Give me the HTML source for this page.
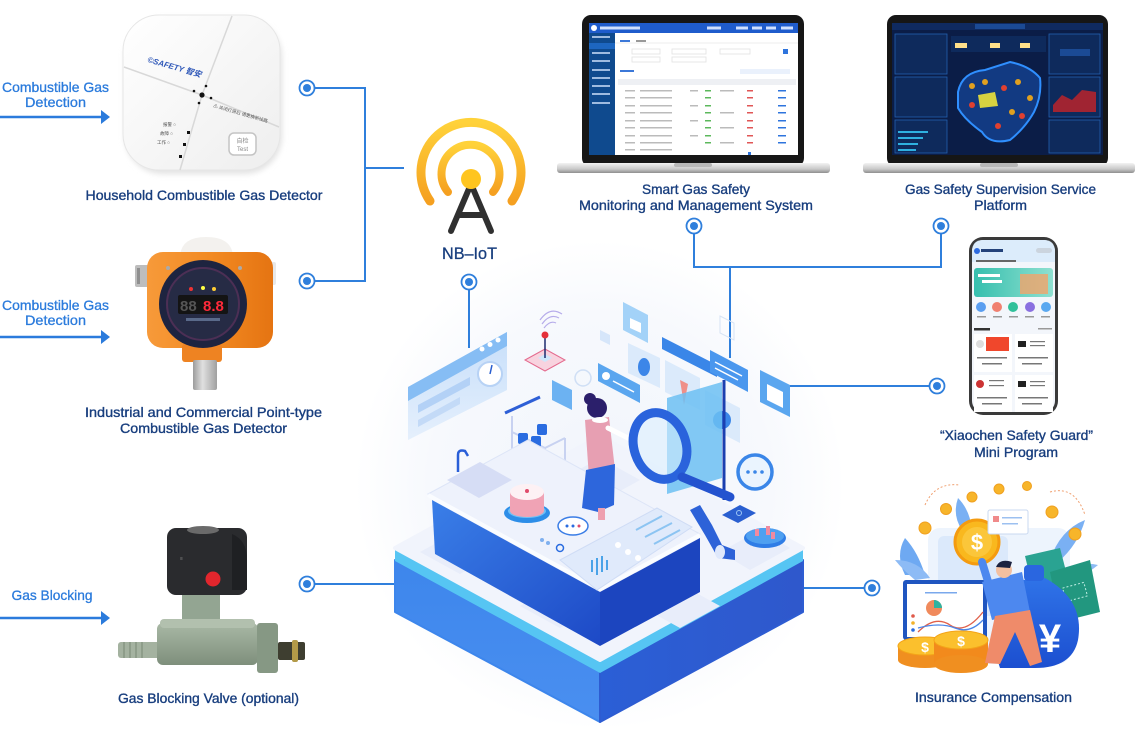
<!DOCTYPE html>
<html>
<head>
<meta charset="utf-8">
<style>
html,body{margin:0;padding:0;background:#fff;}
svg{display:block;}
text{font-family:"Liberation Sans","Noto Sans CJK SC",sans-serif;}
</style>
</head>
<body>
<svg width="1135" height="733" viewBox="0 0 1135 733" xmlns="http://www.w3.org/2000/svg">
<defs>
  <radialGradient id="glow" cx="0.5" cy="0.5" r="0.5">
    <stop offset="0" stop-color="#f1f5fc"/>
    <stop offset="0.7" stop-color="#f7f9fd"/>
    <stop offset="1" stop-color="#ffffff"/>
  </radialGradient>
  <linearGradient id="antg" x1="0" y1="0" x2="0" y2="1">
    <stop offset="0" stop-color="#ffd23a"/>
    <stop offset="1" stop-color="#f5a020"/>
  </linearGradient>
  <linearGradient id="leftFace" x1="0" y1="0" x2="0" y2="1">
    <stop offset="0" stop-color="#3d86ec"/>
    <stop offset="1" stop-color="#4a8ff0"/>
  </linearGradient>
  <linearGradient id="rightFace" x1="0" y1="0" x2="1" y2="0">
    <stop offset="0" stop-color="#2b5fd6"/>
    <stop offset="1" stop-color="#2f58cc"/>
  </linearGradient>
  <linearGradient id="ctrFace" x1="0" y1="0" x2="1" y2="1">
    <stop offset="0" stop-color="#3a7fe8"/>
    <stop offset="1" stop-color="#1d49c6"/>
  </linearGradient>
  <linearGradient id="browser" x1="0" y1="0" x2="0" y2="1">
    <stop offset="0" stop-color="#c4ddfa"/>
    <stop offset="1" stop-color="#e4effc"/>
  </linearGradient>
  <linearGradient id="silver" x1="0" y1="0" x2="0" y2="1">
    <stop offset="0" stop-color="#f2f2f2"/>
    <stop offset="0.6" stop-color="#c9c9c9"/>
    <stop offset="1" stop-color="#8e8e8e"/>
  </linearGradient>
  <linearGradient id="orange" x1="0" y1="0" x2="1" y2="0">
    <stop offset="0" stop-color="#f79a3a"/>
    <stop offset="0.5" stop-color="#f28a22"/>
    <stop offset="1" stop-color="#e57412"/>
  </linearGradient>
  <linearGradient id="sensor" x1="0" y1="0" x2="1" y2="0">
    <stop offset="0" stop-color="#9c9c9c"/>
    <stop offset="0.4" stop-color="#e0e0e0"/>
    <stop offset="1" stop-color="#a0a0a0"/>
  </linearGradient>
  <linearGradient id="detw" x1="0" y1="0" x2="1" y2="1">
    <stop offset="0" stop-color="#ffffff"/>
    <stop offset="1" stop-color="#eeeeee"/>
  </linearGradient>
  <linearGradient id="valveg" x1="0" y1="0" x2="0" y2="1">
    <stop offset="0" stop-color="#a9b8a5"/>
    <stop offset="1" stop-color="#7e8f7c"/>
  </linearGradient>
  <linearGradient id="teal" x1="0" y1="0" x2="1" y2="0">
    <stop offset="0" stop-color="#36bfae"/>
    <stop offset="1" stop-color="#8fe0d0"/>
  </linearGradient>
  <linearGradient id="bag" x1="0" y1="0" x2="0" y2="1">
    <stop offset="0" stop-color="#2f73e8"/>
    <stop offset="1" stop-color="#1c4fd0"/>
  </linearGradient>
  <filter id="soft" x="-20%" y="-20%" width="140%" height="140%">
    <feGaussianBlur stdDeviation="3"/>
  </filter>
</defs>

<!-- background glow for central illustration -->
<circle cx="600" cy="485" r="245" fill="url(#glow)"/>

<!-- ================= CONNECTORS ================= -->
<g fill="none" stroke="#2f7fdc" stroke-width="2">
  <path d="M314,88 H365 V281 H314"/>
  <path d="M365,168 H404"/>
  <path d="M469,289 V348"/>
  <path d="M694,233 V267 H941 V233"/>
  <path d="M730,267 V358"/>
  <path d="M790,386 H930"/>
  <path d="M800,588 H865"/>
  <path d="M395,584 H314"/>
</g>

<!-- left arrows -->
<g stroke="#2b7bdc" stroke-width="2.5" fill="#2b7bdc">
  <line x1="0" y1="117" x2="103" y2="117"/>
  <line x1="0" y1="337" x2="103" y2="337"/>
  <line x1="0" y1="618" x2="103" y2="618"/>
</g>
<g fill="#2b7bdc">
  <polygon points="101,110 110,117 101,124"/>
  <polygon points="101,330 110,337 101,344"/>
  <polygon points="101,611 110,618 101,625"/>
</g>

<!-- ================= HOUSEHOLD DETECTOR ================= -->
<rect x="125" y="19" width="157" height="155" rx="38" fill="#e2e2e2" filter="url(#soft)"/>
<rect x="123" y="15" width="157" height="155" rx="36" fill="url(#detw)" stroke="#e6e6e6"/>
<path d="M232,16 L202,95 L180,170" stroke="#d8d8d8" stroke-width="1.5" fill="none"/>
<path d="M124,67 L202,95 L279,127" stroke="#d8d8d8" stroke-width="1.5" fill="none"/>
<text x="147" y="62" font-size="8" font-weight="bold" font-style="italic" fill="#2e57b8" transform="rotate(16 147 62)">©SAFETY 智安</text>
<circle cx="202" cy="95" r="2.6" fill="#111"/>
<circle cx="194" cy="91" r="1.3" fill="#111"/>
<circle cx="206" cy="86" r="1.3" fill="#111"/>
<circle cx="211" cy="98" r="1.3" fill="#111"/>
<circle cx="199" cy="103" r="1.3" fill="#111"/>
<text x="213" y="107" font-size="4.5" fill="#555" transform="rotate(16 213 107)">⚠ 关闭灯源后 请更换新线路</text>
<rect x="187" y="131" width="3" height="3" fill="#111"/>
<rect x="183" y="143" width="3" height="3" fill="#111"/>
<rect x="179" y="155" width="3" height="3" fill="#111"/>
<text x="163" y="126" font-size="4.5" fill="#555">报警 ○</text>
<text x="160" y="135" font-size="4.5" fill="#555">故障 ○</text>
<text x="157" y="144" font-size="4.5" fill="#555">工作 ○</text>
<rect x="229" y="133" width="27" height="22" rx="5" fill="#fff" stroke="#c4c4c4" stroke-width="1.5"/>
<text x="242.5" y="143" font-size="6" fill="#888" text-anchor="middle">自检</text>
<text x="242.5" y="151" font-size="6" fill="#888" text-anchor="middle">Test</text>

<!-- ================= INDUSTRIAL DETECTOR ================= -->
<rect x="135" y="265" width="16" height="22" rx="2" fill="#bdbdbd"/>
<rect x="137" y="268" width="3" height="16" fill="#8f8f8f"/>
<rect x="264" y="262" width="12" height="23" rx="2" fill="#e8e8e8"/>
<path d="M180,258 Q180,237 206,237 Q233,237 233,258 Z" fill="#f3f1ee"/>
<rect x="147" y="252" width="126" height="96" rx="16" fill="url(#orange)"/>
<rect x="182" y="344" width="40" height="18" rx="3" fill="#ee8322"/>
<rect x="193" y="360" width="24" height="30" rx="2" fill="url(#sensor)"/>
<circle cx="203" cy="304" r="44" fill="#1e2440"/>
<circle cx="203" cy="304" r="36" fill="#262b45" stroke="#4c2f55" stroke-width="2"/>
<circle cx="191" cy="289" r="2" fill="#e33"/>
<circle cx="203" cy="288" r="2" fill="#ff4"/>
<circle cx="214" cy="289" r="2" fill="#fc3"/>
<rect x="178" y="295" width="50" height="19" rx="2" fill="#141414"/>
<text x="180" y="311" font-size="15" font-family="Liberation Mono" fill="#555" font-weight="bold">88</text>
<text x="203" y="311" font-size="15" font-family="Liberation Mono" fill="#ff2a3a" font-weight="bold">8.8</text>
<rect x="186" y="318" width="34" height="3" fill="#5a6a8a"/>
<circle cx="168" cy="268" r="2" fill="#aaa"/>
<circle cx="240" cy="268" r="2" fill="#aaa"/>

<!-- ================= VALVE ================= -->
<rect x="118" y="642" width="42" height="16" rx="3" fill="#a4b2a0"/>
<g stroke="#7f8f7c" stroke-width="1.2">
  <line x1="124" y1="642" x2="124" y2="658"/><line x1="130" y1="642" x2="130" y2="658"/>
  <line x1="136" y1="642" x2="136" y2="658"/><line x1="142" y1="642" x2="142" y2="658"/>
</g>
<rect x="182" y="592" width="38" height="34" fill="#93a592"/>
<rect x="157" y="623" width="101" height="42" rx="6" fill="url(#valveg)"/>
<rect x="160" y="619" width="95" height="9" rx="4" fill="#b2c0ae"/>
<rect x="257" y="623" width="21" height="50" rx="3" fill="#869884"/>
<rect x="278" y="642" width="27" height="18" rx="2" fill="#3e3e30"/>
<rect x="292" y="640" width="6" height="22" rx="2" fill="#b39a48"/>
<rect x="167" y="528" width="80" height="67" rx="9" fill="#2a2b2e"/>
<ellipse cx="203" cy="530" rx="16" ry="4" fill="#6a6a6a"/>
<path d="M232,534 Q247,540 247,560 L247,590 L232,590 Z" fill="#1f2023"/>
<circle cx="213" cy="579" r="7.5" fill="#e2262d"/>
<text x="180" y="560" font-size="5" fill="#888">≡</text>

<!-- ================= ANTENNA ================= -->
<path d="M430,201 A50,50 0 1 1 512,201" fill="none" stroke="url(#antg)" stroke-width="9" stroke-linecap="round"/>
<path d="M448,192 A29,29 0 1 1 493,192" fill="none" stroke="url(#antg)" stroke-width="8" stroke-linecap="round"/>
<path d="M471,184 L451,231 M471,184 L491,231 M458,215 H484" stroke="#303030" stroke-width="6" stroke-linecap="round" fill="none"/>
<circle cx="471" cy="179" r="10" fill="#ffc51f"/>

<!-- ================= LAPTOP 1 ================= -->
<rect x="582" y="15" width="222" height="152" rx="9" fill="#161616"/>
<rect x="589" y="23" width="209" height="132" fill="#ffffff"/>
<rect x="589" y="23" width="209" height="10" fill="#1f5ccc"/>
<circle cx="594" cy="28" r="3" fill="#fff"/>
<rect x="600" y="26.5" width="40" height="3" fill="#cfe0ff"/>
<rect x="707" y="26.5" width="14" height="3" fill="#cfe0ff"/>
<rect x="736" y="26.5" width="12" height="3" fill="#cfe0ff"/>
<rect x="752" y="26.5" width="10" height="3" fill="#cfe0ff"/>
<rect x="766" y="26.5" width="10" height="3" fill="#cfe0ff"/>
<rect x="781" y="26.5" width="12" height="3" fill="#cfe0ff"/>
<rect x="589" y="33" width="26" height="122" fill="#0f4a8e"/>
<rect x="589" y="43" width="26" height="6" fill="#1d66c0"/>
<g fill="#9fbbe0">
  <rect x="592" y="36" width="18" height="2"/><rect x="592" y="52" width="18" height="2"/>
  <rect x="592" y="60" width="18" height="2"/><rect x="592" y="69" width="18" height="2"/>
  <rect x="592" y="77" width="18" height="2"/><rect x="592" y="85" width="18" height="2"/>
  <rect x="592" y="93" width="18" height="2"/><rect x="592" y="102" width="18" height="2"/>
</g>
<rect x="620" y="40" width="10" height="2" fill="#3b78d8"/>
<rect x="636" y="40" width="10" height="2" fill="#999"/>
<line x1="615" y1="43" x2="798" y2="43" stroke="#eee"/>
<g fill="none" stroke="#e2e2e2" stroke-width="0.8">
  <rect x="632" y="49" width="28" height="5"/><rect x="672" y="49" width="34" height="5"/>
  <rect x="720" y="49" width="30" height="5"/><rect x="632" y="57" width="28" height="5"/>
  <rect x="672" y="57" width="34" height="5"/>
</g>
<rect x="783" y="49" width="5" height="5" fill="#2e74dd"/>
<rect x="620" y="70" width="14" height="2" fill="#3b78d8"/>
<rect x="740" y="69" width="50" height="5" fill="#eaf1fc"/>
<rect x="618" y="79" width="178" height="6" fill="#eef0f4"/>
<g fill="#bbb">
  <rect x="625" y="90" width="10" height="1.5"/><rect x="625" y="97" width="10" height="1.5"/>
  <rect x="625" y="105" width="10" height="1.5"/><rect x="625" y="112" width="10" height="1.5"/>
  <rect x="625" y="120" width="10" height="1.5"/><rect x="625" y="127" width="10" height="1.5"/>
  <rect x="625" y="135" width="10" height="1.5"/><rect x="625" y="142" width="10" height="1.5"/>
  <rect x="625" y="149" width="10" height="1.5"/>
  <rect x="640" y="90" width="32" height="1.5"/><rect x="640" y="97" width="32" height="1.5"/>
  <rect x="640" y="105" width="32" height="1.5"/><rect x="640" y="112" width="32" height="1.5"/>
  <rect x="640" y="120" width="32" height="1.5"/><rect x="640" y="127" width="32" height="1.5"/>
  <rect x="640" y="135" width="32" height="1.5"/><rect x="640" y="142" width="32" height="1.5"/>
  <rect x="640" y="149" width="32" height="1.5"/>
  <rect x="690" y="90" width="8" height="1.5"/><rect x="690" y="105" width="8" height="1.5"/>
  <rect x="690" y="120" width="8" height="1.5"/><rect x="690" y="135" width="8" height="1.5"/>
  <rect x="720" y="90" width="14" height="1.5"/><rect x="720" y="112" width="14" height="1.5"/>
  <rect x="720" y="127" width="14" height="1.5"/><rect x="720" y="142" width="14" height="1.5"/>
</g>
<g fill="#5cb85c">
  <rect x="705" y="90" width="6" height="1.5"/><rect x="705" y="97" width="6" height="1.5"/>
  <rect x="705" y="105" width="6" height="1.5"/><rect x="705" y="112" width="6" height="1.5"/>
  <rect x="705" y="120" width="6" height="1.5"/><rect x="705" y="127" width="6" height="1.5"/>
  <rect x="705" y="135" width="6" height="1.5"/><rect x="705" y="142" width="6" height="1.5"/>
</g>
<g fill="#e05656">
  <rect x="747" y="90" width="6" height="1.5"/><rect x="747" y="97" width="6" height="1.5"/>
  <rect x="747" y="105" width="6" height="1.5"/><rect x="747" y="112" width="6" height="1.5"/>
  <rect x="747" y="120" width="6" height="1.5"/><rect x="747" y="127" width="6" height="1.5"/>
  <rect x="747" y="135" width="6" height="1.5"/><rect x="747" y="142" width="6" height="1.5"/>
</g>
<g fill="#2e74dd">
  <rect x="778" y="90" width="8" height="1.5"/><rect x="778" y="97" width="8" height="1.5"/>
  <rect x="778" y="105" width="8" height="1.5"/><rect x="778" y="112" width="8" height="1.5"/>
  <rect x="778" y="120" width="8" height="1.5"/><rect x="778" y="127" width="8" height="1.5"/>
  <rect x="778" y="135" width="8" height="1.5"/><rect x="778" y="142" width="8" height="1.5"/>
  <rect x="748" y="152" width="3" height="3"/>
</g>
<rect x="557" y="163" width="273" height="10" rx="3" fill="url(#silver)"/>
<rect x="674" y="163" width="38" height="4" rx="2" fill="#b8b8b8"/>

<!-- ================= LAPTOP 2 ================= -->
<rect x="887" y="15" width="221" height="152" rx="9" fill="#161616"/>
<rect x="892" y="23" width="211" height="132" fill="#0b1d47"/>
<rect x="892" y="23" width="211" height="7" fill="#0f2a60"/>
<rect x="975" y="24" width="50" height="5" fill="#1b4a94"/>
<g fill="#0e2a5c" stroke="#2360b0" stroke-width="0.8">
  <rect x="895" y="34" width="52" height="40"/>
  <rect x="895" y="77" width="52" height="40"/>
  <rect x="895" y="120" width="52" height="33"/>
  <rect x="1049" y="34" width="51" height="40"/>
  <rect x="1049" y="77" width="51" height="40"/>
  <rect x="1049" y="120" width="51" height="33"/>
</g>
<rect x="951" y="36" width="95" height="16" fill="#0e2a5c"/>
<rect x="955" y="43" width="12" height="5" fill="#ffe08a"/>
<rect x="990" y="43" width="10" height="5" fill="#ffe08a"/>
<rect x="1020" y="43" width="10" height="5" fill="#ffe08a"/>
<path d="M958,92 Q962,72 985,70 L1010,62 Q1030,66 1040,78 Q1042,96 1034,112 Q1025,128 1010,140 Q990,145 982,132 Q965,120 958,108 Z" fill="#123a82" stroke="#2f8fff" stroke-width="2"/>
<path d="M978,95 L995,92 L998,106 L980,108 Z" fill="#d7d240"/>
<g fill="#e0a020"><circle cx="972" cy="86" r="3"/><circle cx="985" cy="82" r="3"/><circle cx="1018" cy="82" r="3"/><circle cx="1030" cy="98" r="3"/><circle cx="1012" cy="112" r="3"/></g>
<g fill="#e04030"><circle cx="1004" cy="88" r="3"/><circle cx="972" cy="105" r="3"/><circle cx="1022" cy="116" r="3"/><circle cx="998" cy="126" r="3"/></g>
<path d="M1053,105 L1062,95 L1072,100 L1082,90 L1096,92 L1096,112 L1053,112 Z" fill="#b0242e" opacity="0.9"/>
<g fill="#2fb0e0">
  <rect x="898" y="131" width="30" height="2"/><rect x="898" y="137" width="25" height="2"/>
  <rect x="898" y="143" width="20" height="2"/><rect x="898" y="149" width="18" height="2"/>
</g>
<rect x="1060" y="49" width="30" height="7" fill="#1b4a94"/>
<rect x="863" y="163" width="272" height="10" rx="3" fill="url(#silver)"/>
<rect x="980" y="163" width="38" height="4" rx="2" fill="#b8b8b8"/>

<!-- ================= PHONE ================= -->
<rect x="969" y="237" width="89" height="178" rx="14" fill="#3a3a3a"/>
<rect x="972" y="240" width="83" height="172" rx="11" fill="#f3f6fb"/>
<path d="M972,252 Q972,240 983,240 L1044,240 Q1055,240 1055,252 L1055,262 L972,262 Z" fill="#dcecfb"/>
<circle cx="977" cy="251" r="3" fill="#2e6be0"/>
<rect x="981" y="249" width="22" height="3" fill="#24427a"/>
<rect x="1036" y="248" width="16" height="5" rx="2.5" fill="#cbd4de"/>
<rect x="976" y="260" width="40" height="2" fill="#666"/>
<rect x="974" y="268" width="79" height="29" rx="3" fill="url(#teal)"/>
<rect x="978" y="274" width="22" height="3" fill="#ffffff"/>
<rect x="982" y="280" width="20" height="3" fill="#ffffff"/>
<rect x="1020" y="274" width="28" height="20" fill="#f3a46a" opacity="0.8"/>
<circle cx="981" cy="307" r="5" fill="#5a9ef0"/>
<circle cx="997" cy="307" r="5" fill="#f08070"/>
<circle cx="1013" cy="307" r="5" fill="#30c09a"/>
<circle cx="1030" cy="307" r="5" fill="#8a70e0"/>
<circle cx="1046" cy="307" r="5" fill="#5aa8f0"/>
<g fill="#999"><rect x="977" y="316" width="9" height="1.5"/><rect x="993" y="316" width="9" height="1.5"/><rect x="1009" y="316" width="9" height="1.5"/><rect x="1025" y="316" width="9" height="1.5"/><rect x="1041" y="316" width="9" height="1.5"/></g>
<rect x="974" y="328" width="16" height="2.5" fill="#333"/>
<rect x="1038" y="328" width="14" height="1.5" fill="#999"/>
<g fill="#ffffff">
  <rect x="974" y="334" width="38" height="38"/><rect x="1015" y="334" width="38" height="38"/>
  <rect x="974" y="375" width="38" height="37"/><rect x="1015" y="375" width="38" height="37"/>
</g>
<circle cx="980" cy="344" r="4" fill="#ddd"/>
<rect x="986" y="337" width="23" height="14" fill="#f0472c"/>
<rect x="1018" y="341" width="8" height="6" fill="#222"/>
<rect x="1018" y="381" width="8" height="6" fill="#222"/>
<circle cx="980" cy="384" r="4" fill="#c33"/>
<g fill="#777">
  <rect x="977" y="357" width="30" height="1.5"/><rect x="982" y="363" width="20" height="1.5"/>
  <rect x="1018" y="357" width="30" height="1.5"/><rect x="1022" y="363" width="20" height="1.5"/>
  <rect x="977" y="397" width="30" height="1.5"/><rect x="982" y="403" width="20" height="1.5"/>
  <rect x="1018" y="397" width="30" height="1.5"/><rect x="1022" y="403" width="20" height="1.5"/>
  <rect x="1030" y="341" width="15" height="1.2"/><rect x="1030" y="345" width="15" height="1.2"/>
  <rect x="1030" y="381" width="15" height="1.2"/><rect x="1030" y="385" width="15" height="1.2"/>
  <rect x="989" y="380" width="15" height="1.2"/><rect x="989" y="385" width="15" height="1.2"/>
</g>

<!-- ================= CENTRAL ILLUSTRATION ================= -->
<polygon points="395,612 600,722 600,672 395,560" fill="url(#leftFace)" stroke="#3d86ec" stroke-width="2" stroke-linejoin="round"/>
<polygon points="600,722 803,612 803,560 600,672" fill="url(#rightFace)" stroke="#2d5cd2" stroke-width="2" stroke-linejoin="round"/>
<polygon points="395,548 600,660 803,548 803,561 600,673 395,561" fill="#56c5f3"/>
<polygon points="395,548 600,436 803,548 600,660" fill="#f1f4fc" stroke="#f1f4fc" stroke-width="4" stroke-linejoin="round"/>
<polygon points="420,552 460,530 500,552 460,574" fill="#e8edfa"/>
<polygon points="520,606 560,584 600,606 560,628" fill="#e8edfa"/>
<polygon points="640,606 680,584 720,606 680,628" fill="#e8edfa"/>
<polygon points="720,552 760,530 790,548 750,570" fill="#e8edfa"/>
<polygon points="560,480 600,458 640,480 600,502" fill="#e8edfa"/>

<polygon points="408,387 507,332 507,390 408,440" fill="url(#browser)" opacity="0.95"/>
<polygon points="408,387 507,332 507,346 408,401" fill="#86bdf4"/>
<circle cx="482" cy="349" r="2.5" fill="#fff"/><circle cx="490" cy="344.5" r="2.5" fill="#fff"/><circle cx="498" cy="340" r="2.5" fill="#fff"/>
<circle cx="490" cy="374" r="12" fill="#fff" stroke="#b7d2f5" stroke-width="2"/>
<line x1="490" y1="374" x2="492" y2="365" stroke="#2a5fd0" stroke-width="1.5"/>
<polygon points="418,405 470,377 470,385 418,413" fill="#b3d1f6"/>
<polygon points="418,420 460,397 460,404 418,427" fill="#c3daf7"/>

<path d="M540,320 Q550,306 562,314" stroke="#b6acea" stroke-width="1.2" fill="none"/>
<path d="M542,324 Q550,313 559,318" stroke="#b6acea" stroke-width="1.2" fill="none"/>
<path d="M544,328 Q550,320 556,323" stroke="#b6acea" stroke-width="1.2" fill="none"/>
<polygon points="525,360 545,349 565,360 545,371" fill="#f8d3df" stroke="#e46a8e" stroke-width="1"/>
<polygon points="538,358 545,354 552,358 545,362" fill="#cfe7fb"/>
<line x1="545" y1="336" x2="545" y2="358" stroke="#1c2a6e" stroke-width="1.5"/>
<circle cx="545" cy="335" r="3.5" fill="#e5303a"/>

<circle cx="583" cy="378" r="8" fill="none" stroke="#cfdff5" stroke-width="1.5"/>
<polygon points="623,302 648,315 648,343 623,330" fill="#a3d2f8"/>
<path d="M630,318 L641,323 L641,333 L630,328 Z" fill="#fff"/>
<polygon points="552,380 572,390 572,410 552,400" fill="#6cb2f2"/>
<polygon points="598,363 640,385 640,403 598,381" fill="#5aa6ef"/>
<circle cx="606" cy="376" r="4" fill="#fff"/>
<line x1="613" y1="381" x2="634" y2="392" stroke="#fff" stroke-width="1.5"/>
<polygon points="628,343 660,358 660,388 628,373" fill="#dbeafb"/>
<ellipse cx="644" cy="367" rx="6" ry="9" fill="#3c86e8"/>
<polygon points="662,337 717,365 717,377 662,349" fill="#3a86e8"/>
<polygon points="665,360 700,378 700,410 665,392" fill="#dbeafb"/>
<path d="M680,380 L688,384 L684,405 Z" fill="#ef8f88"/>
<polygon points="710,350 748,370 748,392 710,372" fill="#4a97ee"/>
<line x1="715" y1="362" x2="742" y2="376" stroke="#fff" stroke-width="1.5"/>
<line x1="715" y1="368" x2="738" y2="380" stroke="#fff" stroke-width="1.5"/>
<polygon points="705,390 740,408 740,443 705,425" fill="#dbeafb"/>
<circle cx="722" cy="420" r="9" fill="#3a86e8"/>
<polygon points="760,370 790,385 790,417 760,402" fill="#5aa6ef"/>
<path d="M767,384 L783,392 L783,408 L767,400 Z" fill="#fff"/>
<polygon points="600,330 610,335 610,345 600,340" fill="#d6e6fa"/>
<polygon points="720,316 734,323 734,340 720,333" fill="none" stroke="#d6e3f5"/>
<circle cx="755" cy="472" r="17" fill="#eaf4fe" stroke="#3a86e8" stroke-width="3.5"/>
<circle cx="748" cy="472" r="1.8" fill="#3a86e8"/><circle cx="755" cy="472" r="1.8" fill="#3a86e8"/><circle cx="762" cy="472" r="1.8" fill="#3a86e8"/>

<polygon points="667,398 722,382 722,478 667,494" fill="#6cc0f2" opacity="0.85"/>
<line x1="724" y1="380" x2="724" y2="500" stroke="#1b3fb0" stroke-width="3"/>

<g fill="none" stroke="#c8d2f1" stroke-width="2">
  <path d="M506,413 L540,398 M512,416 L512,470 M512,432 L545,448 L565,438 M512,455 L545,470 L565,460 M545,448 L545,478 M565,438 L565,475"/>
</g>
<line x1="505" y1="413" x2="540" y2="397" stroke="#2d5fd6" stroke-width="3"/>
<g fill="#2a6ce0">
  <rect x="518" y="433" width="10" height="11" rx="2"/><rect x="531" y="436" width="10" height="11" rx="2"/>
  <rect x="537" y="424" width="10" height="11" rx="2"/>
</g>
<circle cx="564" cy="477" r="3" fill="none" stroke="#2d5fd6" stroke-width="1.5"/>

<polygon points="432,500 600,592 600,646 435,554" fill="url(#ctrFace)"/>
<polygon points="600,592 700,538 700,592 600,646" fill="#1c45bf"/>
<polygon points="428,494 528,440 700,534 600,588" fill="#eef2fc" stroke="#dde5f7" stroke-width="1"/>
<path d="M428,495 L600,589 L700,535" fill="none" stroke="#fafcff" stroke-width="4" stroke-linejoin="round"/>
<polygon points="447,480 480,462 512,480 479,498" fill="#d6ddf5"/>
<path d="M458,472 L458,455 Q458,449 465,451 L468,456" stroke="#2a5fd8" stroke-width="2.5" fill="none"/>
<ellipse cx="527" cy="513" rx="23" ry="10" fill="#2d8ee8"/>
<ellipse cx="527" cy="511" rx="19" ry="7" fill="#6fc0f5"/>
<rect x="510" y="492" width="34" height="19" fill="#f0a3b5"/>
<ellipse cx="527" cy="511" rx="17" ry="6" fill="#f0a3b5"/>
<ellipse cx="527" cy="492" rx="17" ry="8" fill="#fdf1f4"/>
<circle cx="527" cy="491" r="2" fill="#e04b6b"/>
<ellipse cx="573" cy="526" rx="15" ry="9" fill="#fff" stroke="#3a7de6" stroke-width="1.5"/>
<circle cx="567" cy="526" r="1.5" fill="#2a6ce0"/><circle cx="573" cy="526" r="1.5" fill="#2a6ce0"/><circle cx="579" cy="526" r="1.5" fill="#e04b6b"/>
<circle cx="542" cy="540" r="2" fill="#7fb0ef"/><circle cx="548" cy="543" r="2" fill="#7fb0ef"/>
<circle cx="560" cy="548" r="3.5" fill="none" stroke="#2a6ce0" stroke-width="1.5"/>
<polygon points="560,560 657,508 692,527 597,590" fill="#e0eafb" stroke="#cfdcf5"/>
<g stroke="#4aa3e8" stroke-width="2">
  <line x1="592" y1="572" x2="592" y2="560"/><line x1="597" y1="575" x2="597" y2="558"/>
  <line x1="602" y1="572" x2="602" y2="556"/><line x1="607" y1="570" x2="607" y2="560"/>
</g>
<g stroke="#8cc4f2" stroke-width="2">
  <line x1="636" y1="530" x2="662" y2="516"/><line x1="645" y1="537" x2="672" y2="523"/><line x1="654" y1="544" x2="680" y2="530"/>
</g>
<g fill="#fff"><circle cx="618" cy="545" r="3"/><circle cx="628" cy="552" r="3"/><circle cx="638" cy="558" r="3"/></g>

<path d="M690,510 L700,505 L712,525 L722,545 L735,550 L735,560 L718,558 L705,535 Z" fill="#2d62d8"/>
<ellipse cx="720" cy="552" rx="5" ry="7" fill="#dfe8fb"/>
<polygon points="722,515 740,505 756,513 738,523" fill="#2a5fd0"/>
<circle cx="739" cy="513" r="2.5" fill="none" stroke="#9cc6f5" stroke-width="1"/>
<ellipse cx="765" cy="538" rx="21" ry="10" fill="#2f7de6"/>
<ellipse cx="765" cy="536" rx="19" ry="8" fill="#4fa0f0"/>
<g fill="#f08aa0"><rect x="755" y="529" width="4" height="7"/><rect x="766" y="526" width="4" height="9"/><rect x="771" y="532" width="4" height="7"/></g>

<circle cx="590" cy="399" r="6" fill="#2b1f6b"/>
<circle cx="597" cy="408" r="10" fill="#2b1f6b"/>
<polygon points="585,420 609,417 615,470 589,478" fill="#e79fb2"/>
<ellipse cx="600" cy="420" rx="8" ry="3" fill="#fff"/>
<line x1="608" y1="428" x2="636" y2="442" stroke="#fff" stroke-width="5" stroke-linecap="round"/>
<polygon points="586,470 615,464 614,505 598,512 582,508" fill="#2d66dc"/>
<rect x="598" y="508" width="7" height="12" fill="#eea0b0"/>
<ellipse cx="660" cy="446" rx="26" ry="34" transform="rotate(-18 660 446)" fill="#d8effd" fill-opacity="0.55" stroke="#2a63dc" stroke-width="9"/>
<line x1="682" y1="477" x2="730" y2="497" stroke="#2453cf" stroke-width="9" stroke-linecap="round"/>

<!-- ================= INSURANCE ================= -->
<rect x="928" y="528" width="142" height="136" rx="12" fill="#edf4fd"/>
<rect x="938" y="536" width="70" height="80" rx="6" fill="#dbe9fb"/>
<path d="M905,575 Q895,555 905,538 Q918,552 925,575 Z" fill="#6ea9f2"/>
<path d="M915,580 Q903,570 895,560 Q918,560 930,578 Z" fill="#8dbbf5"/>
<path d="M962,530 Q952,515 958,498 Q970,510 972,530 Z" fill="#7ab0f3"/>
<path d="M1050,560 Q1060,530 1085,520 Q1078,545 1058,562 Z" fill="#7ab0f3"/>
<path d="M1055,575 Q1080,560 1098,565 Q1080,580 1060,582 Z" fill="#8dbbf5"/>
<rect x="903" y="580" width="84" height="60" rx="3" fill="#1f55c0"/>
<rect x="907" y="584" width="76" height="53" fill="#ffffff"/>
<circle cx="934" cy="608" r="8" fill="#f08a5c"/>
<path d="M934,608 L934,600 A8,8 0 0 1 942,608 Z" fill="#2fb3a0"/>
<circle cx="913" cy="616" r="1.8" fill="#e05a4a"/><circle cx="913" cy="623" r="1.8" fill="#f2b22a"/><circle cx="913" cy="630" r="1.8" fill="#2a6ce0"/>
<path d="M918,632 Q935,615 950,625 T983,612" stroke="#e0604a" stroke-width="1.3" fill="none"/>
<path d="M918,628 Q940,622 955,628 T983,620" stroke="#4a86e8" stroke-width="1.3" fill="none"/>
<rect x="925" y="592" width="32" height="1.5" fill="#7aa8ec"/>
<polygon points="1025,556 1060,548 1076,610 1040,618" fill="#2aa392"/>
<polygon points="1050,572 1090,560 1100,612 1060,622" fill="#22977f"/>
<rect x="1064" y="585" width="22" height="14" fill="none" stroke="#bfeee4" stroke-dasharray="2 2" transform="rotate(-15 1075 592)"/>
<path d="M1022,580 L1045,578 Q1085,600 1078,640 Q1072,668 1035,668 L1000,668 Q990,640 1000,610 Q1008,590 1022,580 Z" fill="url(#bag)"/>
<rect x="1024" y="565" width="20" height="16" rx="4" fill="#2a66e0"/>
<text x="1050" y="652" font-size="40" font-weight="bold" fill="#ffffff" text-anchor="middle">¥</text>
<circle cx="977" cy="542" r="22" fill="#f9b81e" stroke="#f49b10" stroke-width="3"/>
<circle cx="977" cy="542" r="15" fill="#fbc63a"/>
<text x="977" y="550" font-size="22" font-weight="bold" fill="#ffffff" text-anchor="middle">$</text>
<rect x="988" y="510" width="40" height="24" rx="2" fill="#ffffff" stroke="#c9d8f0"/>
<rect x="993" y="516" width="6" height="6" fill="#f08a8a"/>
<rect x="1002" y="517" width="20" height="1.5" fill="#9cc0f0"/><rect x="1002" y="523" width="16" height="1.5" fill="#9cc0f0"/>
<g fill="#f7b52a" stroke="#f0a020" stroke-width="1">
  <circle cx="925" cy="528" r="6"/><circle cx="946" cy="509" r="5.5"/><circle cx="972" cy="497" r="5"/>
  <circle cx="999" cy="489" r="5"/><circle cx="1027" cy="486" r="4.5"/><circle cx="1052" cy="512" r="6"/>
  <circle cx="1075" cy="534" r="6"/>
</g>
<path d="M925,505 Q935,482 960,485" stroke="#f0a070" stroke-width="1" stroke-dasharray="2 2" fill="none"/>
<path d="M1050,492 Q1075,485 1085,515" stroke="#f0a070" stroke-width="1" stroke-dasharray="2 2" fill="none"/>
<rect x="898" y="646" width="54" height="14" fill="#f08f20"/>
<ellipse cx="925" cy="660" rx="27" ry="8" fill="#f08f20"/>
<ellipse cx="925" cy="646" rx="27" ry="9" fill="#fbc02d" stroke="#f4a418"/>
<text x="925" y="652" font-size="14" font-weight="bold" fill="#fff" text-anchor="middle">$</text>
<rect x="934" y="640" width="54" height="24" fill="#f28a1c"/>
<ellipse cx="961" cy="664" rx="27" ry="9" fill="#f08f20"/>
<ellipse cx="961" cy="640" rx="27" ry="9" fill="#fbc02d" stroke="#f4a418"/>
<text x="961" y="646" font-size="14" font-weight="bold" fill="#fff" text-anchor="middle">$</text>
<line x1="990" y1="588" x2="982" y2="562" stroke="#4d88ef" stroke-width="8" stroke-linecap="round"/>
<polygon points="982,582 1022,572 1030,612 992,620" fill="#4d88ef"/>
<circle cx="1004" cy="570" r="8" fill="#f3c0a0"/>
<path d="M996,567 Q1000,558 1012,562 L1010,568 Z" fill="#1c2340"/>
<polygon points="995,616 1030,610 1042,662 1030,666 1015,632 1000,664 985,663" fill="#ef8b6a"/>

<!-- ================= NODES ================= -->
<g fill="#ffffff" stroke="#2f7fdc" stroke-width="1.8">
  <circle cx="307" cy="88" r="7.5"/><circle cx="307" cy="281" r="7.5"/><circle cx="307" cy="584" r="7.5"/>
  <circle cx="469" cy="282" r="7.5"/><circle cx="694" cy="226" r="7.5"/><circle cx="941" cy="226" r="7.5"/>
  <circle cx="937" cy="386" r="7.5"/><circle cx="872" cy="588" r="7.5"/>
</g>
<g fill="#2f7fdc">
  <circle cx="307" cy="88" r="4"/><circle cx="307" cy="281" r="4"/><circle cx="307" cy="584" r="4"/>
  <circle cx="469" cy="282" r="4"/><circle cx="694" cy="226" r="4"/><circle cx="941" cy="226" r="4"/>
  <circle cx="937" cy="386" r="4"/><circle cx="872" cy="588" r="4"/>
</g>

<!-- ================= LABELS ================= -->
<g font-size="14" fill="#2b7bdc" stroke="#2b7bdc" stroke-width="0.3" text-anchor="middle">
  <text x="55.5" y="92" textLength="107" lengthAdjust="spacingAndGlyphs">Combustible Gas</text>
  <text x="55.5" y="107" textLength="61" lengthAdjust="spacingAndGlyphs">Detection</text>
  <text x="55.5" y="310" textLength="107" lengthAdjust="spacingAndGlyphs">Combustible Gas</text>
  <text x="55.5" y="325" textLength="61" lengthAdjust="spacingAndGlyphs">Detection</text>
  <text x="52" y="600" textLength="81" lengthAdjust="spacingAndGlyphs">Gas Blocking</text>
</g>
<g font-size="14" fill="#183e7e" stroke="#183e7e" stroke-width="0.35" text-anchor="middle">
  <text x="204" y="200" textLength="237" lengthAdjust="spacingAndGlyphs">Household Combustible Gas Detector</text>
  <text x="203.5" y="417" textLength="237" lengthAdjust="spacingAndGlyphs">Industrial and Commercial Point-type</text>
  <text x="203.5" y="433" textLength="167" lengthAdjust="spacingAndGlyphs">Combustible Gas Detector</text>
  <text x="208.5" y="703" textLength="181" lengthAdjust="spacingAndGlyphs">Gas Blocking Valve (optional)</text>
  <text x="696" y="194" textLength="108" lengthAdjust="spacingAndGlyphs">Smart Gas Safety</text>
  <text x="696" y="210" textLength="234" lengthAdjust="spacingAndGlyphs">Monitoring and Management System</text>
  <text x="1000.5" y="194" textLength="191" lengthAdjust="spacingAndGlyphs">Gas Safety Supervision Service</text>
  <text x="1000.5" y="210" textLength="53" lengthAdjust="spacingAndGlyphs">Platform</text>
  <text x="1016.5" y="440" textLength="153" lengthAdjust="spacingAndGlyphs">“Xiaochen Safety Guard”</text>
  <text x="1016" y="457" textLength="84" lengthAdjust="spacingAndGlyphs">Mini Program</text>
  <text x="993.5" y="702" textLength="157" lengthAdjust="spacingAndGlyphs">Insurance Compensation</text>
</g>
<text x="469.5" y="259" font-size="17" fill="#183e7e" stroke="#183e7e" stroke-width="0.3" text-anchor="middle" textLength="55" lengthAdjust="spacingAndGlyphs">NB–IoT</text>
</svg>
</body>
</html>
